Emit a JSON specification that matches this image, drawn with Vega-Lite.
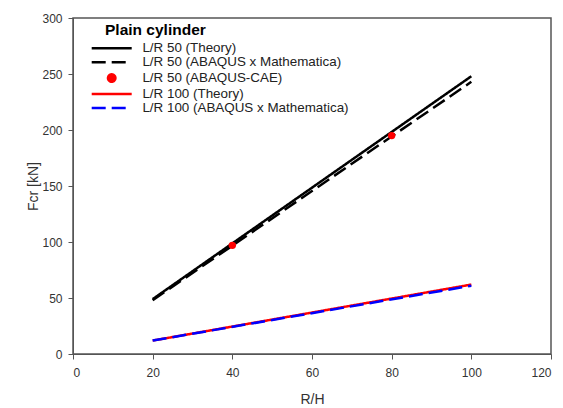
{
  "$schema": "https://vega.github.io/schema/vega-lite/v6.json",
  "width": 478,
  "height": 336,
  "padding": {"left": 26, "top": 12, "right": 5, "bottom": 0},
  "config": {
    "font": "Liberation Sans",
    "view": {"stroke": "#555", "strokeWidth": 1.5},
    "axis": {"grid": false, "domainColor": "#555", "tickColor": "#555", "labelColor": "#333", "titleColor": "#333", "labelFontSize": 12, "titleFontSize": 14, "titleFontWeight": "normal", "tickSize": 5},
    "legend": {"orient": "none", "legendX": 32, "legendY": 5, "titleFontSize": 15.5, "titleFontWeight": "bold", "titleColor": "#000", "labelFontSize": 13.4, "labelColor": "#222", "symbolStrokeWidth": 2.5, "rowPadding": -1.2, "labelOffset": 24, "titlePadding": 3, "labelLimit": 300}
  },
  "datasets": {
    "lines": [
      {"rh": 20, "f": 49, "series": "L/R 50 (Theory)"},
      {"rh": 100, "f": 248, "series": "L/R 50 (Theory)"},
      {"rh": 20, "f": 48, "series": "L/R 50 (ABAQUS x Mathematica)"},
      {"rh": 100, "f": 243, "series": "L/R 50 (ABAQUS x Mathematica)"},
      {"rh": 20, "f": 12, "series": "L/R 100 (Theory)"},
      {"rh": 100, "f": 62, "series": "L/R 100 (Theory)"},
      {"rh": 20, "f": 12, "series": "L/R 100 (ABAQUS x Mathematica)"},
      {"rh": 100, "f": 61, "series": "L/R 100 (ABAQUS x Mathematica)"}
    ],
    "points": [
      {"rh": 40, "f": 97, "series": "L/R 50 (ABAQUS-CAE)"},
      {"rh": 80, "f": 195, "series": "L/R 50 (ABAQUS-CAE)"}
    ]
  },
  "layer": [
    {
      "data": {"name": "lines"},
      "mark": {"type": "line", "strokeWidth": 2.5},
      "encoding": {
        "x": {"field": "rh", "type": "quantitative", "scale": {"domain": [0, 120]}, "axis": {"title": "R/H", "values": [0, 20, 40, 60, 80, 100, 120], "labelPadding": 8, "titlePadding": 14}},
        "y": {"field": "f", "type": "quantitative", "scale": {"domain": [0, 300]}, "axis": {"title": "Fcr [kN]", "values": [0, 50, 100, 150, 200, 250, 300], "labelPadding": 6, "titlePadding": 1}},
        "color": {"field": "series", "type": "nominal", "title": "Plain cylinder",
          "scale": {"domain": ["L/R 50 (Theory)", "L/R 50 (ABAQUS x Mathematica)", "L/R 50 (ABAQUS-CAE)", "L/R 100 (Theory)", "L/R 100 (ABAQUS x Mathematica)"], "range": ["#000000", "#000000", "#ff0000", "#ff0000", "#0000ff"]}},
        "strokeDash": {"field": "series", "type": "nominal", "title": "Plain cylinder",
          "scale": {"domain": ["L/R 50 (Theory)", "L/R 50 (ABAQUS x Mathematica)", "L/R 50 (ABAQUS-CAE)", "L/R 100 (Theory)", "L/R 100 (ABAQUS x Mathematica)"], "range": [[1, 0], [14, 6], [1, 0], [1, 0], [14, 6]]}},
        "order": {"field": "rh"}
      }
    },
    {
      "data": {"name": "points"},
      "mark": {"type": "point", "filled": true, "opacity": 1},
      "encoding": {
        "x": {"field": "rh", "type": "quantitative"},
        "y": {"field": "f", "type": "quantitative"},
        "color": {"field": "series", "type": "nominal", "title": "Plain cylinder"},
        "shape": {"field": "series", "type": "nominal", "title": "Plain cylinder",
          "scale": {"domain": ["L/R 50 (Theory)", "L/R 50 (ABAQUS x Mathematica)", "L/R 50 (ABAQUS-CAE)", "L/R 100 (Theory)", "L/R 100 (ABAQUS x Mathematica)"], "range": ["M-4,0H4", "M-4,0H4", "circle", "M-4,0H4", "M-4,0H4"]}},
        "size": {"field": "series", "type": "nominal", "title": "Plain cylinder",
          "scale": {"type": "ordinal", "domain": ["L/R 50 (Theory)", "L/R 50 (ABAQUS x Mathematica)", "L/R 50 (ABAQUS-CAE)", "L/R 100 (Theory)", "L/R 100 (ABAQUS x Mathematica)"], "range": [100, 100, 55, 100, 100]}}
      }
    }
  ]
}
